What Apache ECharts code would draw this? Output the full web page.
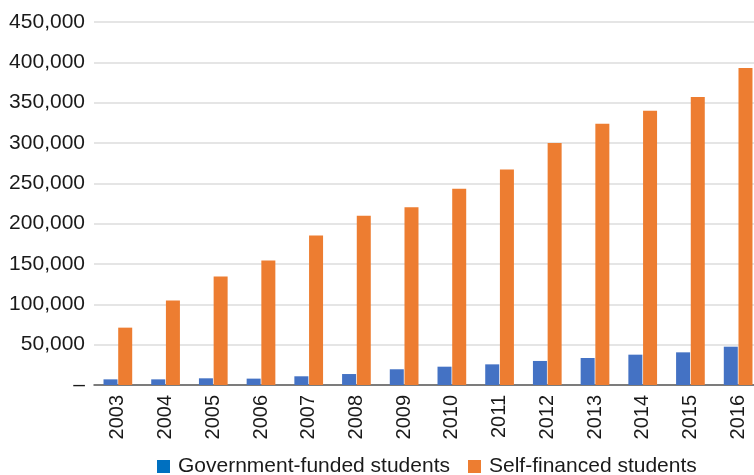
<!DOCTYPE html>
<html>
<head>
<meta charset="utf-8">
<script src="https://cdn.jsdelivr.net/npm/echarts@6/dist/echarts.min.js"></script>
<style>
  html, body { margin: 0; padding: 0; background: #fff; overflow: hidden; }
  /* The plot runs slightly past the right edge of the page, so the canvas is wider than the window */
  #chart { width: 770px; height: 475px; }
</style>
</head>
<body>
<div id="chart"></div>
<script>
// Students by year and funding source
const years = ['2003', '2004', '2005', '2006', '2007', '2008', '2009',
               '2010', '2011', '2012', '2013', '2014', '2015', '2016'];
const governmentFunded = [7000, 7000, 8300, 7900, 10800, 13600, 19500,
                          22700, 25600, 29800, 33500, 37600, 40500, 47500];
const selfFinanced = [71100, 104600, 134400, 154200, 185200, 209700, 220400,
                      243200, 267100, 299900, 323800, 339900, 356900, 392900];
const seriesNames = ['Government-funded students', 'Self-financed students'];

const FONT = '"Liberation Sans", Arial, sans-serif';
const TEXT = '#1a1a1a';

const chart = echarts.init(document.getElementById('chart'), null, { renderer: 'canvas' });

chart.setOption({
  animation: false,
  textStyle: { fontFamily: FONT },
  grid: { left: 94, top: 22, width: 668, bottom: 90, containLabel: false },
  legend: {
    left: 157,
    top: 456,
    padding: 0,
    itemWidth: 13,
    itemHeight: 13,
    itemGap: 18,
    icon: 'rect',
    textStyle: { fontFamily: FONT, fontSize: 21, color: TEXT, padding: [0, 0, 0, 3] },
    data: [
      { name: seriesNames[0], itemStyle: { color: '#0070C0' } },
      { name: seriesNames[1], itemStyle: { color: '#ED7D31' } }
    ]
  },
  xAxis: {
    type: 'category',
    data: years,
    axisLine: { lineStyle: { color: '#595959', width: 1.5 } },
    axisTick: { show: false },
    axisLabel: {
      rotate: 90,
      margin: 10,
      fontFamily: FONT,
      fontSize: 20,
      color: TEXT,
      interval: 0
    }
  },
  yAxis: {
    type: 'value',
    min: 0,
    max: 450000,
    interval: 50000,
    axisLine: { show: false },
    axisTick: { show: false },
    splitLine: { lineStyle: { color: '#DCDCDC', width: 1.5 } },
    axisLabel: {
      margin: 9,
      fontFamily: FONT,
      fontSize: 21,
      color: TEXT,
      formatter: v => v === 0 ? '\u2013' : v.toLocaleString('en-US')
    }
  },
  series: [
    {
      name: seriesNames[0],
      type: 'bar',
      data: governmentFunded,
      barWidth: 14,
      barGap: '5%',
      itemStyle: { color: '#4472C4' }
    },
    {
      name: seriesNames[1],
      type: 'bar',
      data: selfFinanced,
      barWidth: 14,
      barGap: '5%',
      itemStyle: { color: '#ED7D31' }
    }
  ]
});
</script>
</body>
</html>
